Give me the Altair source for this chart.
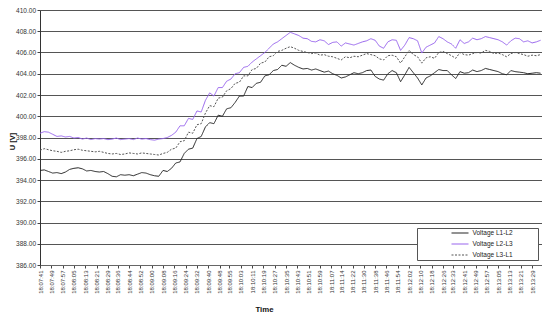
import altair as alt
import pandas as pd

series_names = ["Voltage L1-L2", "Voltage L2-L3", "Voltage L3-L1"]
series_colors = ["#262626", "#9966ee", "#555555"]

tick_labels = ["18:07:41", "18:07:49", "18:07:57", "18:08:05", "18:08:13", "18:08:21",
               "18:08:29", "18:08:36", "18:08:44", "18:08:52", "18:09:00", "18:09:08",
               "18:09:16", "18:09:24", "18:09:32", "18:09:40", "18:09:48", "18:09:55",
               "18:10:03", "18:10:11", "18:10:19", "18:10:27", "18:10:35", "18:10:43",
               "18:10:51", "18:10:59", "18:11:07", "18:11:14", "18:11:22", "18:11:30",
               "18:11:38", "18:11:46", "18:11:54", "18:12:02", "18:12:10", "18:12:18",
               "18:12:26", "18:12:33", "18:12:41", "18:12:49", "18:12:57", "18:13:05",
               "18:13:13", "18:13:21", "18:13:29"]

y_ticks = [386, 388, 390, 392, 394, 396, 398, 400, 402, 404, 406, 408, 410]

sample_step_s = 3  # seconds between samples, first sample at 18:07:41

u_l1_l2 = [
    394.9, 394.95, 394.8, 394.65, 394.7, 394.6, 394.75, 395.0, 395.1, 395.15,
    395.05, 394.85, 394.9, 394.8, 394.75, 394.8, 394.6, 394.35, 394.3, 394.5,
    394.45, 394.5, 394.4, 394.55, 394.7, 394.65, 394.5, 394.4, 394.35, 394.9,
    394.8, 395.1, 395.6, 395.7, 396.5, 396.9, 397.0, 397.9, 398.1, 399.0,
    399.4, 399.3, 400.1, 400.0, 400.7, 400.8, 401.3, 401.9, 401.9, 402.8,
    402.7, 403.1, 403.2, 403.8, 403.9, 404.3, 404.4, 404.8, 404.7, 405.05,
    404.8, 404.6, 404.45, 404.5, 404.35, 404.45, 404.3, 404.15, 404.25, 404.0,
    403.85, 403.6, 403.7, 403.9, 404.1, 404.0, 404.1, 404.3, 404.35, 403.75,
    403.5, 403.4, 404.0, 404.3, 404.1, 403.25, 403.9, 404.6, 404.1, 403.6,
    402.95, 403.6, 403.8, 404.1, 404.4, 404.3, 404.3, 403.9, 403.55, 404.2,
    404.05, 404.1, 404.35, 404.2, 404.3, 404.5, 404.4, 404.3, 404.2, 404.0,
    403.9, 404.3, 404.2, 404.15, 404.1, 404.0, 404.05, 404.1, 404.05,
]

u_l2_l3 = [
    398.4, 398.55, 398.5, 398.3, 398.1, 398.15, 398.05, 398.1, 397.95, 398.0,
    397.85, 397.95, 397.8, 397.9, 397.85, 397.9, 397.8, 397.85, 397.95, 397.8,
    397.85, 397.9, 397.8, 397.95, 397.85, 397.9, 397.8, 397.75, 397.85, 397.9,
    398.0, 398.2, 398.5, 399.1, 399.1, 399.8, 399.7, 400.5, 400.4, 401.5,
    402.2, 401.9, 402.7, 402.7, 403.3, 403.5, 404.0, 404.1, 404.6, 404.7,
    405.1, 405.4, 405.7, 406.0, 406.4, 406.8, 407.0, 407.3, 407.6, 407.9,
    407.75, 407.6, 407.35, 407.3, 407.05, 407.0, 407.2, 407.1, 406.75, 406.95,
    407.0, 406.6, 406.9, 406.8, 406.7, 406.85, 407.0, 407.1, 407.3, 407.15,
    406.6, 406.4, 407.0, 407.2, 407.15, 406.2, 406.7, 407.4, 407.3, 407.1,
    405.95, 406.5, 406.7, 406.9, 407.5, 407.3, 407.0, 406.8, 406.4, 407.2,
    406.85, 407.0, 407.35, 407.2, 407.3, 407.5, 407.4, 407.3, 407.2, 407.0,
    406.7, 407.1, 407.35, 407.3, 407.0, 407.1, 406.9, 407.0, 407.15,
]

u_l3_l1 = [
    396.8, 396.95, 396.85, 396.75, 396.7, 396.6, 396.7, 396.75, 396.85, 396.9,
    396.8, 396.75, 396.7, 396.65, 396.7, 396.6, 396.5, 396.45, 396.5, 396.4,
    396.45, 396.55, 396.5, 396.45, 396.55, 396.5, 396.45, 396.4, 396.35, 396.5,
    396.6, 396.9, 397.0, 397.6, 397.7, 398.5, 398.4, 399.2, 399.3, 400.3,
    401.0, 400.9, 401.7, 401.8, 402.4, 402.6, 403.1, 403.2, 403.8, 403.8,
    404.4, 404.5, 405.0, 405.1, 405.6, 405.7, 406.1, 406.2, 406.4, 406.55,
    406.4, 406.2, 406.1, 406.0, 405.9, 405.95, 405.75, 405.8, 405.65, 405.6,
    405.45, 405.3, 405.6, 405.5, 405.65, 405.6, 405.75, 405.9, 405.8, 405.7,
    405.4, 405.3, 405.7, 405.75, 405.6, 405.0, 405.6, 406.2, 405.8, 405.6,
    405.0, 405.5, 405.6, 405.45, 406.0, 406.1, 405.9, 405.7, 405.45, 406.0,
    405.8, 405.75, 405.9, 406.0, 405.95, 406.2, 406.1, 405.9, 405.95, 405.8,
    405.6, 405.9, 406.0, 405.9, 405.8, 405.65, 405.75, 405.7, 405.8,
]


def to_seconds(label):
    h, m, s = (int(p) for p in label.split(":"))
    return h * 3600 + m * 60 + s


t0 = to_seconds(tick_labels[0])
tick_seconds = [to_seconds(l) - t0 for l in tick_labels]

rows = []
for name, vals in zip(series_names, [u_l1_l2, u_l2_l3, u_l3_l1]):
    for i, v in enumerate(vals):
        rows.append({"t": i * sample_step_s, "U": v, "series": name})
df = pd.DataFrame(rows)

FONT = "Liberation Sans"

legend = alt.Legend(
    title=" ", titleOrient="right", titlePadding=24,
    orient="none", legendX=377, legendY=218,
    fillColor="white", strokeColor="#555555", padding=1.5, rowPadding=4,
    symbolType="M-3.4,0H3.4", symbolSize=25, symbolStrokeWidth=1.2,
    symbolOffset=38, symbolFillColor="transparent",
    labelFont=FONT, labelFontSize=6.5, labelColor="#222222", labelOffset=9,
)

chart = alt.Chart(df).mark_line(strokeWidth=1, interpolate="linear").encode(
    x=alt.X("t:Q",
            scale=alt.Scale(domain=[0, 355], nice=False, zero=False),
            axis=alt.Axis(
                title="Time", values=tick_seconds,
                labelExpr="timeFormat(datetime(2020, 0, 1, 18, 7, 41 + datum.value), '%H:%M:%S')",
                labelAngle=270, labelFontSize=6, labelFont=FONT, labelColor="#333333",
                labelPadding=2, labelOverlap=False, labelBound=False, labelFlush=False,
                tickSize=3, tickColor="#444444", domainColor="#666666",
                grid=False,
                titleFont=FONT, titleFontSize=7.8, titleFontWeight="bold",
                titleColor="#111111", titleX=224, titleY=46,
                titleBaseline="alphabetic", titleAlign="center")),
    y=alt.Y("U:Q",
            scale=alt.Scale(domain=[386, 410], nice=False, zero=False),
            axis=alt.Axis(
                title="U [V]", values=y_ticks, format=".2f",
                labelFontSize=6.5, labelFont=FONT, labelColor="#333333", labelPadding=1.5,
                tickSize=3, tickColor="#444444", domainColor="#333333",
                grid=True, gridColor="#555555", gridWidth=1,
                titleFont=FONT, titleFontSize=7.5, titleFontWeight="bold",
                titleColor="#111111", titleAngle=270, titleX=-28, titleY=131,
                titleAlign="center", titleBaseline="middle")),
    color=alt.Color("series:N",
                    scale=alt.Scale(domain=series_names, range=series_colors),
                    legend=legend),
    strokeDash=alt.StrokeDash("series:N",
                              scale=alt.Scale(domain=series_names,
                                              range=[[1, 0], [1, 0], [2, 1.5]]),
                              legend=legend),
    order="t:Q",
).properties(
    width=502, height=255,
    padding={"left": 32, "top": 2, "right": 0, "bottom": 47},
    autosize=alt.AutoSizeParams(type="none"),
).configure_view(
    stroke="#a0a0a0", strokeWidth=1,
).configure(background="white")

chart.save("out.html", embed_options={"renderer": "svg", "actions": False})
